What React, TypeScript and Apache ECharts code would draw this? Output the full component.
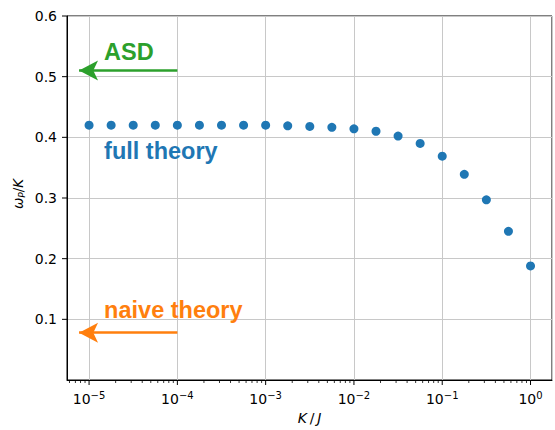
import React, { useEffect, useRef } from 'react';
import * as echarts from 'echarts';

// K/J values (quarter-decade steps) and measured omega_P/K
const kOverJ = [
  1e-5, 1.778e-5, 3.162e-5, 5.623e-5,
  1e-4, 1.778e-4, 3.162e-4, 5.623e-4,
  1e-3, 1.778e-3, 3.162e-3, 5.623e-3,
  1e-2, 1.778e-2, 3.162e-2, 5.623e-2,
  0.1, 0.1778, 0.3162, 0.5623, 1,
];
const omegaP = [
  0.420, 0.420, 0.420, 0.420,
  0.420, 0.420, 0.420, 0.420,
  0.420, 0.419, 0.418, 0.4165,
  0.414, 0.410, 0.402, 0.390,
  0.369, 0.339, 0.297, 0.245, 0.188,
];

// axis ticks
const xMajorTicks = [1e-5, 1e-4, 1e-3, 1e-2, 1e-1, 1];
const xMinorMultipliers = [2, 3, 4, 5, 6, 7, 8, 9];
const yTicks = [0.1, 0.2, 0.3, 0.4, 0.5, 0.6];

// annotations
const annotationTexts = ['ASD', 'full theory', 'naive theory'];
const annotationColors = ['#2ca02c', '#1f77b4', '#ff7f0e'];
const annotationX = [1.48e-5, 1.48e-5, 1.48e-5];
const annotationY = [0.54, 0.378, 0.115];

const arrowColors = ['#2ca02c', '#ff7f0e'];
const arrowFromX = [1e-4, 1e-4];
const arrowToX = [7.7e-6, 7.7e-6];
const arrowY = [0.51, 0.078];

const X_MIN = Math.pow(10, -5.25);
const X_MAX = Math.pow(10, -5.25 + 490 / 89.2);

export default function App() {
  const ref = useRef<HTMLDivElement>(null);

  useEffect(() => {
    if (!ref.current) return;
    const chart = echarts.init(ref.current, undefined, { renderer: 'svg' });

    const tickData: number[][] = [];
    xMajorTicks.forEach((v) => tickData.push([v, 0, 0]));
    for (let e = -6; e <= 0; e++) {
      xMinorMultipliers.forEach((m) => {
        const v = m * Math.pow(10, e);
        if (v > X_MIN && v < X_MAX) tickData.push([v, 0, 1]);
      });
    }
    yTicks.forEach((v) => tickData.push([X_MIN, v, 2]));

    const minus = '\u2212';

    const option: any = {
      animation: false,
      grid: {
        left: 67,
        top: 16,
        width: 490,
        height: 368,
        show: true,
        borderColor: '#000',
        borderWidth: 1,
        backgroundColor: 'transparent',
      },
      xAxis: {
        type: 'log',
        logBase: 10,
        min: X_MIN,
        max: X_MAX,
        name: '{i|K}{n|\u2009/\u2009}{i|J}',
        nameLocation: 'middle',
        nameGap: 31,
        nameTextStyle: {
          rich: {
            i: { fontFamily: 'DejaVu Sans', fontStyle: 'italic', fontSize: 14, color: '#000' },
            n: { fontFamily: 'DejaVu Sans', fontSize: 14, color: '#000' },
          },
        },
        axisLine: { show: true, lineStyle: { color: '#000', width: 1 } },
        axisTick: { show: false },
        minorTick: { show: false },
        splitLine: { show: true, lineStyle: { color: '#c8c8c8', width: 1 } },
        axisLabel: {
          margin: 10,
          color: '#000',
          fontFamily: 'DejaVu Sans',
          fontSize: 14,
          formatter: (v: number) => {
            const e = Math.log10(v);
            const r = Math.round(e);
            if (Math.abs(e - r) > 1e-6) return '';
            const s = r < 0 ? minus + String(-r) : String(r);
            return '{b|10}{s|' + s + '}';
          },
          rich: {
            b: { fontFamily: 'DejaVu Sans', fontSize: 14, color: '#000', lineHeight: 18 },
            s: { fontFamily: 'DejaVu Sans', fontSize: 10, color: '#000', verticalAlign: 'top', lineHeight: 18 },
          },
        },
      },
      yAxis: {
        type: 'value',
        min: 0,
        max: 0.6,
        interval: 0.1,
        name: '{i|ω}{s|P}{n|/}{i|K}',
        nameLocation: 'middle',
        nameGap: 41,
        nameMoveOverlap: false,
        nameRotate: 90,
        nameTextStyle: {
          padding: [0, 0, 0, 8],
          rich: {
            i: { fontFamily: 'DejaVu Sans', fontStyle: 'italic', fontSize: 13.5, color: '#000', lineHeight: 17 },
            s: { fontFamily: 'DejaVu Sans', fontStyle: 'italic', fontSize: 9, color: '#000', verticalAlign: 'bottom', lineHeight: 17 },
            n: { fontFamily: 'DejaVu Sans', fontSize: 13.5, color: '#000', lineHeight: 17 },
          },
        },
        axisLine: { show: true, lineStyle: { color: '#000', width: 1 } },
        axisTick: { show: false },
        splitLine: { show: true, lineStyle: { color: '#c8c8c8', width: 1 } },
        axisLabel: {
          margin: 10,
          color: '#000',
          fontFamily: 'DejaVu Sans',
          fontSize: 14,
          formatter: (v: number) => (v === 0 ? '' : v.toFixed(1)),
        },
      },
      series: [
        {
          type: 'scatter',
          data: kOverJ.map((x, i) => [x, omegaP[i]]),
          symbol: 'circle',
          symbolSize: 9,
          itemStyle: { color: '#1f77b4', opacity: 1 },
          z: 5,
          markPoint: {
            silent: true,
            symbol: 'circle',
            symbolSize: 0,
            data: annotationTexts.map((t, i) => ({
              coord: [annotationX[i], annotationY[i]],
              label: {
                show: true,
                position: 'right',
                distance: 0,
                formatter: t,
                color: annotationColors[i],
                fontFamily: 'Liberation Sans',
                fontWeight: 'bold',
                fontSize: 23.5,
              },
            })),
          },
        },
        ...arrowColors.map((c, i) => ({
          type: 'scatter',
          data: [],
          markLine: {
            silent: true,
            animation: false,
            symbol: ['none', 'arrow'],
            symbolSize: [15, 19],
            label: { show: false },
            lineStyle: { color: c, width: 2.5, type: 'solid', opacity: 1 },
            itemStyle: { color: c },
            data: [[{ coord: [arrowFromX[i], arrowY[i]] }, { coord: [arrowToX[i], arrowY[i]] }]],
          },
        })),
        {
          type: 'custom',
          silent: true,
          clip: false,
          z: 10,
          encode: { x: 0, y: 1 },
          data: tickData,
          renderItem: (params: any, api: any) => {
            const kind = api.value(2);
            const p = api.coord([api.value(0), api.value(1)]);
            if (kind === 2) {
              return {
                type: 'line',
                shape: { x1: p[0] - 5, y1: p[1], x2: p[0], y2: p[1] },
                style: { stroke: '#000', lineWidth: 1 },
              };
            }
            const len = kind === 0 ? 5 : 3;
            return {
              type: 'line',
              shape: { x1: p[0], y1: p[1], x2: p[0], y2: p[1] + len },
              style: { stroke: '#000', lineWidth: kind === 0 ? 1 : 0.8 },
            };
          },
        },
      ],
    };

    chart.setOption(option);
    return () => chart.dispose();
  }, []);

  return (
    <div
      ref={ref}
      style={{ position: 'fixed', left: 0, top: 0, width: 555, height: 430, background: '#fff' }}
    />
  );
}
